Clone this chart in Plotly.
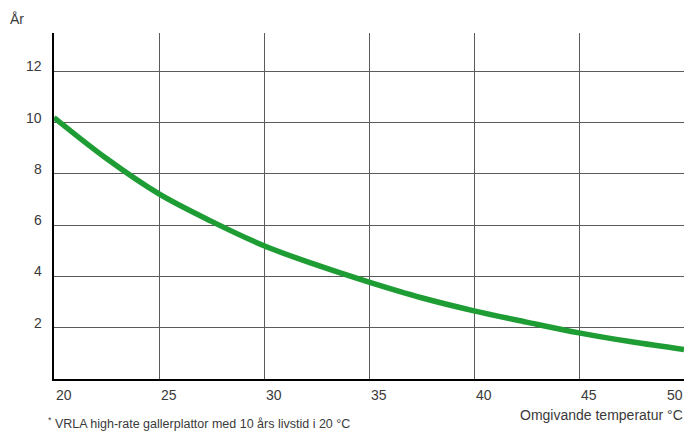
import plotly.graph_objects as go

# Data
temperature = [20, 22.5, 25, 27.5, 30, 32.5, 35, 37.5, 40, 42.5, 45, 47.5, 50]
years = [10.2, 8.6, 7.22, 6.15, 5.2, 4.45, 3.78, 3.17, 2.66, 2.22, 1.8, 1.45, 1.15]

x_ticks = [20, 25, 30, 35, 40, 45, 50]
x_tick_labels = ["20", "25", "30", "35", "40", "45", "50"]
y_ticks = [2, 4, 6, 8, 10, 12]
y_tick_labels = ["2", "4", "6", "8", "10", "12"]

y_title = "År"
x_title = "Omgivande temperatur °C"
footnote = "<sup>*</sup> VRLA high-rate gallerplattor med 10 års livstid i 20 °C"

font_family = "Liberation Sans, Arial, sans-serif"
text_color = "#3a3a3a"
grid_color = "#5a5a5a"

fig = go.Figure()
fig.add_trace(go.Scatter(
    x=temperature, y=years, mode="lines",
    line=dict(color="#1f9d35", width=5.5, shape="spline"),
    hoverinfo="skip", showlegend=False,
))

annotations = []
for v, t in zip(x_ticks, x_tick_labels):
    last = v == x_ticks[-1]
    annotations.append(dict(
        x=v, y=0, xref="x", yref="paper", text=t, showarrow=False,
        xanchor="right" if last else "left", yanchor="middle",
        xshift=1 if last else 0, yshift=-16,
        font=dict(size=14, color=text_color, family=font_family),
    ))
for v, t in zip(y_ticks, y_tick_labels):
    annotations.append(dict(
        x=0, y=v, xref="paper", yref="y", text=t, showarrow=False,
        xanchor="right", yanchor="middle", xshift=-10, yshift=5,
        font=dict(size=14, color=text_color, family=font_family),
    ))
annotations.append(dict(
    x=0, y=1, xref="paper", yref="paper", text=y_title, showarrow=False,
    xanchor="left", yanchor="middle", xshift=-46, yshift=14,
    font=dict(size=14, color=text_color, family=font_family),
))
annotations.append(dict(
    x=1, y=0, xref="paper", yref="paper", text=x_title, showarrow=False,
    xanchor="right", yanchor="middle", xshift=1, yshift=-36,
    font=dict(size=14, color=text_color, family=font_family),
))
annotations.append(dict(
    x=0, y=0, xref="paper", yref="paper", text=footnote, showarrow=False,
    xanchor="left", yanchor="middle", xshift=-8, yshift=-44,
    font=dict(size=12.5, color=text_color, family=font_family),
))

fig.update_layout(
    width=685, height=432,
    margin=dict(l=54, r=1, t=33, b=53),
    paper_bgcolor="white", plot_bgcolor="white",
    font=dict(family=font_family, color=text_color, size=14),
    showlegend=False,
    xaxis=dict(
        range=[20, 50], tickvals=x_ticks[:-1], showticklabels=False,
        showgrid=True, gridcolor=grid_color, gridwidth=1,
        showline=True, linecolor="black", linewidth=1.5,
        zeroline=False, ticks="", fixedrange=True,
    ),
    yaxis=dict(
        range=[0, 13.5], tickvals=y_ticks, showticklabels=False,
        showgrid=True, gridcolor=grid_color, gridwidth=1,
        showline=True, linecolor="black", linewidth=1.5,
        zeroline=False, ticks="", fixedrange=True,
    ),
    annotations=annotations,
)

fig.write_html(
    "out.html",
    config={"displayModeBar": False},
    post_script="document.body.style.margin='0';document.body.style.padding='0';document.body.style.overflow='hidden';",
)
